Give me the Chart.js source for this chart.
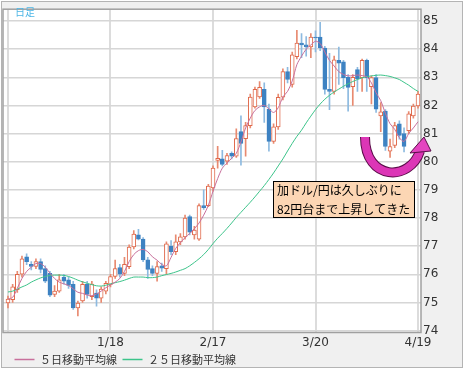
<!DOCTYPE html>
<html lang="ja">
<head>
<meta charset="UTF-8">
<title>加ドル/円 日足</title>
<script src="https://cdn.jsdelivr.net/npm/chart.js"></script>
<style>
  body { margin: 0; background: #fff; }
  #wrap { width: 465px; height: 375px; }
</style>
</head>
<body>
<div id="wrap"><canvas id="cadChart" width="465" height="375"></canvas></div>
<script>
// 日足 (2011/12/19 - 2012/4/19), bar index 0..88
const opens  = [74.98,75.10,75.45,76.00,76.62,76.35,76.28,76.45,76.20,76.03,75.28,75.40,75.90,75.80,75.64,74.80,75.05,75.64,75.20,75.33,
                75.15,75.40,75.64,75.92,76.24,76.03,76.27,76.97,77.40,77.25,76.51,76.20,76.03,76.30,76.20,77.00,76.80,77.15,77.33,78.05,
                77.40,77.25,78.44,78.44,79.07,80.05,80.10,80.02,80.30,80.20,81.07,80.82,81.28,81.95,82.30,82.57,81.87,80.72,81.24,82.29,
                83.20,82.75,83.73,84.22,84.15,84.08,84.43,84.43,84.04,82.57,82.50,83.60,83.55,83.00,82.67,83.27,82.99,83.60,82.67,82.99,
                81.63,81.80,80.37,80.58,81.35,81.00,81.10,81.63,81.98];
const highs  = [75.22,75.64,76.10,76.65,76.73,76.45,76.55,76.55,76.30,76.10,75.60,76.00,76.00,75.90,75.75,75.05,75.75,75.75,75.75,75.45,
                75.55,75.75,76.00,76.50,76.35,76.60,77.05,77.55,77.60,77.30,76.60,76.30,76.45,76.40,77.15,77.20,77.40,77.45,78.10,78.10,
                77.70,78.50,79.00,79.20,79.85,80.55,80.40,80.30,80.35,81.17,81.63,81.40,82.40,82.65,82.85,82.80,82.05,81.35,82.40,83.30,
                83.35,83.90,84.67,84.55,84.45,84.55,84.65,84.95,84.10,83.85,83.75,84.07,83.60,83.10,83.10,83.35,83.65,83.65,83.05,83.10,
                82.10,81.85,80.80,81.40,81.45,81.20,81.78,82.05,82.50];
const lows   = [74.80,75.00,75.35,75.90,76.34,76.15,76.20,76.05,75.70,75.20,75.20,75.35,75.65,75.50,74.75,74.52,75.00,75.15,75.10,74.87,
                75.00,75.30,75.55,75.85,75.90,75.95,76.20,76.90,77.22,76.45,75.85,75.95,75.75,76.10,76.00,76.70,76.70,77.05,77.25,77.40,
                77.25,77.20,78.30,78.40,78.95,79.77,79.85,79.90,80.10,80.15,79.88,80.20,81.20,81.90,82.25,81.40,80.37,80.65,81.15,82.20,
                82.80,82.65,83.65,83.70,83.75,83.70,83.90,83.95,82.40,81.85,82.40,82.75,82.60,81.80,82.00,82.50,82.50,82.50,82.05,81.75,
                81.07,80.40,80.15,80.50,80.80,80.35,81.00,81.55,81.90];
const closes = [75.12,75.55,76.00,76.55,76.45,76.28,76.45,76.17,75.75,75.26,75.40,75.80,75.75,75.60,74.80,74.98,75.64,75.28,75.65,75.15,
                75.47,75.68,75.92,76.20,76.00,76.35,76.97,77.43,77.25,76.51,76.17,76.03,76.27,76.22,77.08,76.80,77.15,77.33,78.00,77.50,
                77.57,78.44,78.37,79.13,79.77,80.12,79.90,80.22,80.20,80.82,80.65,81.28,82.30,82.57,82.64,81.95,80.72,81.24,82.29,83.20,
                82.92,83.80,84.22,84.15,84.08,84.43,84.40,84.04,82.57,82.50,83.62,83.50,82.99,82.64,83.00,82.95,83.60,82.99,82.99,81.87,
                81.77,80.54,80.54,81.28,80.93,80.54,81.70,81.98,82.40];
// moving averages
const ma5  = [75.12,75.18,75.50,75.85,76.10,76.25,76.38,76.38,76.25,76.04,75.85,75.72,75.66,75.60,75.48,75.36,75.32,75.26,75.24,75.30,
              75.40,75.52,75.62,75.72,75.85,76.10,76.45,76.70,76.84,76.88,76.80,76.62,76.50,76.35,76.30,76.60,76.92,77.12,77.30,77.45,
              77.62,77.82,78.10,78.45,78.95,79.40,79.77,79.95,80.12,80.30,80.70,81.20,81.55,81.82,81.95,82.00,81.88,81.75,81.92,82.30,
              82.50,82.87,83.45,83.75,84.00,84.15,84.28,84.20,83.90,83.60,83.40,83.20,83.10,83.05,83.06,83.08,83.06,83.02,82.80,82.45,
              82.17,81.72,81.35,81.15,80.85,80.72,81.00,81.20,81.42];
const ma25 = [75.37,75.40,75.47,75.55,75.62,75.72,75.80,75.87,75.92,75.96,75.97,75.97,75.96,75.92,75.86,75.79,75.73,75.68,75.63,75.59,
              75.58,75.61,75.66,75.70,75.74,75.79,75.85,75.90,75.90,75.90,75.88,75.88,75.90,75.95,75.99,76.03,76.08,76.14,76.20,76.30,
              76.42,76.55,76.70,76.88,77.09,77.28,77.45,77.63,77.82,78.02,78.20,78.38,78.56,78.75,78.95,79.15,79.37,79.60,79.85,80.10,
              80.38,80.65,80.90,81.12,81.38,81.62,81.85,82.05,82.22,82.36,82.48,82.58,82.68,82.77,82.85,82.92,82.98,83.02,83.05,83.07,
              83.08,83.06,83.03,82.98,82.92,82.82,82.72,82.60,82.50];
const xTickIndex  = [0, 22, 44, 66, 88];
const xTickLabels = ['', '1/18', '2/17', '3/20', '4/19'];
const yTicks = [74, 75, 76, 77, 78, 79, 80, 81, 82, 83, 84, 85];
const seriesNames = ['５日移動平均線', '２５日移動平均線'];
const noteLines = ['加ドル/円は久しぶりに', '82円台まで上昇してきた'];

const UP = '#e0684a', UP_WICK = '#e88a70', DOWN = '#3d82c2', DOWN_WICK = '#8dbae0';
const MA5_COLOR = '#c8709c', MA25_COLOR = '#3cc48a';
const isUp = opens.map((o, i) => closes[i] >= o);

const frame = {
  id: 'frame',
  afterLayout(chart) {
    // nudge the legend a little to the right, like the original
    chart.legend.left += 6;
    chart.legend.right += 6;
  },
  beforeDraw(chart) {
    const {ctx, chartArea: a} = chart;
    ctx.save();
    ctx.fillStyle = '#f0f0f0';
    ctx.fillRect(1, 1, 461, 366);
    ctx.strokeStyle = '#b4b4b4';
    ctx.lineWidth = 1;
    ctx.strokeRect(1.5, 1.5, 461, 366);
    ctx.fillStyle = '#fff';
    ctx.fillRect(a.left, a.top, a.right - a.left, a.bottom - a.top);
    ctx.restore();
  },
  afterDraw(chart) {
    const {ctx, chartArea: a} = chart;
    ctx.save();
    ctx.strokeStyle = '#a0a0a0';
    ctx.lineWidth = 1.5;
    ctx.strokeRect(a.left, a.top, a.right - a.left, a.bottom - a.top);

    // 日足 label
    ctx.font = '10px "Noto Sans CJK JP"';
    ctx.fillStyle = '#4db6e6';
    ctx.textBaseline = 'middle';
    ctx.fillText('日足', 15, 12);

    // note box
    ctx.fillStyle = '#fcd6b4';
    ctx.fillRect(273, 181, 142, 37);
    ctx.strokeStyle = '#000';
    ctx.lineWidth = 1;
    ctx.strokeRect(273.5, 181.5, 141, 36);
    ctx.fillStyle = '#000';
    ctx.font = '12px "Noto Sans CJK JP"';
    ctx.fillText(noteLines[0], 277, 190.5);
    ctx.fillText(noteLines[1], 277, 209);

    // curved arrow
    ctx.lineCap = 'butt';
    ctx.beginPath();
    ctx.moveTo(365, 137);
    ctx.bezierCurveTo(365, 181, 410, 182, 420, 151);
    ctx.strokeStyle = '#5a0c48';
    ctx.lineWidth = 10;
    ctx.stroke();
    ctx.strokeStyle = '#dc36b6';
    ctx.lineWidth = 8;
    ctx.stroke();
    ctx.beginPath();
    ctx.moveTo(410, 153);
    ctx.lineTo(431, 151);
    ctx.lineTo(424, 137);
    ctx.closePath();
    ctx.fillStyle = '#e444c0';
    ctx.fill();
    ctx.strokeStyle = '#5a0c48';
    ctx.lineWidth = 1;
    ctx.stroke();
    ctx.restore();
  }
};

new Chart(document.getElementById('cadChart'), {
  type: 'bar',
  data: {
    datasets: [
      {
        type: 'line', label: seriesNames[0], order: 0,
        data: ma5.map((v, i) => ({x: i, y: v})),
        borderColor: MA5_COLOR, backgroundColor: MA5_COLOR,
        borderWidth: 1, pointRadius: 0, tension: 0.3
      },
      {
        type: 'line', label: seriesNames[1], order: 0,
        data: ma25.map((v, i) => ({x: i, y: v})),
        borderColor: MA25_COLOR, backgroundColor: MA25_COLOR,
        borderWidth: 1, pointRadius: 0, tension: 0.3
      },
      {
        label: 'body', order: 1, grouped: false,
        data: opens.map((o, i) => ({x: i, y: [o, closes[i]]})),
        backgroundColor: isUp.map(u => u ? '#ffffff' : DOWN),
        borderColor: isUp.map(u => u ? UP : DOWN),
        borderWidth: 1, borderSkipped: false, barThickness: 4
      },
      {
        label: 'wick', order: 2, grouped: false,
        data: lows.map((l, i) => ({x: i, y: [l, highs[i]]})),
        backgroundColor: isUp.map(u => u ? UP_WICK : DOWN_WICK),
        borderWidth: 0, barThickness: 1
      }
    ]
  },
  options: {
    responsive: false,
    animation: false,
    layout: { padding: { left: 3, top: 4, right: 0, bottom: 0 } },
    plugins: {
      tooltip: { enabled: false },
      legend: {
        position: 'bottom',
        align: 'start',
        labels: {
          filter: item => item.datasetIndex < 2,
          generateLabels: chart => chart.data.datasets.slice(0, 2).map((ds, i) => ({
            text: ds.label, datasetIndex: i, pointStyle: 'line',
            strokeStyle: ds.borderColor, fillStyle: ds.borderColor, lineWidth: 1.5, fontColor: '#333'
          })),
          usePointStyle: true,
          pointStyleWidth: 20,
          padding: 5.5,
          color: '#333',
          font: { family: '"Noto Sans CJK JP"', size: 11 }
        }
      }
    },
    scales: {
      x: {
        type: 'linear',
        min: -1.07, max: 88.64,
        offset: false,
        afterBuildTicks: s => { s.ticks = xTickIndex.map(v => ({value: v})); },
        afterFit: s => { s.height = 16; },
        ticks: {
          autoSkip: false, maxRotation: 0, padding: 3,
          color: '#333',
          font: { family: '"DejaVu Sans"', size: 12 },
          callback: v => xTickLabels[xTickIndex.indexOf(v)]
        },
        grid: { color: '#dcdcdc', lineWidth: 2, drawTicks: false, offset: false },
        border: { display: false }
      },
      y: {
        position: 'right',
        min: 73.93, max: 85.42,
        afterBuildTicks: s => { s.ticks = yTicks.map(v => ({value: v})); },
        afterFit: s => { s.width = 44; },
        ticks: {
          padding: 2,
          color: '#333',
          font: { family: '"DejaVu Sans"', size: 12 }
        },
        grid: { color: '#d6d6d6', lineWidth: 1.5, drawTicks: false },
        border: { display: false }
      }
    }
  },
  plugins: [frame]
});
</script>
</body>
</html>
